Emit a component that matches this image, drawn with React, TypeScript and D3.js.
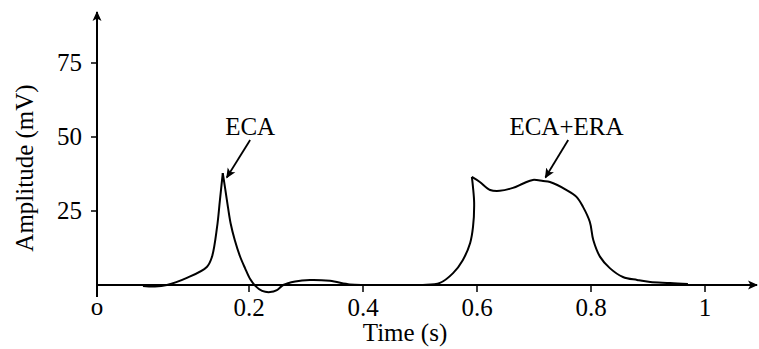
import React, { useEffect, useRef } from "react";
import * as d3 from "d3";

// time (s) and amplitude (mV), split at the two sharp peaks
const times1 = [0.014, 0.035, 0.056, 0.091, 0.126, 0.135, 0.144, 0.149, 0.154];
const amps1 = [-0.3, -0.5, 0, 2.4, 6.1, 9.5, 19.6, 28.7, 37.8];

const times2 = [
  0.154, 0.158, 0.163, 0.168, 0.175, 0.184, 0.193, 0.202, 0.211, 0.223,
  0.237, 0.249, 0.26, 0.281, 0.307, 0.342, 0.377, 0.404, 0.482, 0.505,
  0.535, 0.558, 0.575, 0.588, 0.593, 0.595, 0.593, 0.591,
];
const amps2 = [
  37.8, 32.8, 26.4, 20.6, 15.2, 9.8, 5.7, 2, -0.3, -2,
  -2.4, -1.7, 0, 1.2, 1.7, 1.4, 0.2, 0, 0, 0,
  0.7, 4, 8.4, 14.2, 19.6, 27.7, 33, 36.5,
];

const times3 = [
  0.591, 0.605, 0.623, 0.64, 0.663, 0.681, 0.698, 0.716, 0.728, 0.758,
  0.775, 0.786, 0.798, 0.804, 0.816, 0.833, 0.856, 0.881, 0.904, 0.939, 0.97,
];
const amps3 = [
  36.5, 34.8, 32.1, 31.8, 32.8, 34.3, 35.5, 35.1, 34.8, 32,
  29.7, 26.4, 21.3, 15.2, 9.5, 5.7, 2.7, 1.7, 1.0, 0.7, 0.3,
];

const xTicks = [0.2, 0.4, 0.6, 0.8, 1];
const yTicks = [25, 50, 75];

// labels with text anchor and arrow (from -> to) in data units
const notes = [
  { label: "ECA", tx: 0.202, tv: 50.6, from: [0.202, 49], to: [0.161, 36.3] },
  { label: "ECA+ERA", tx: 0.757, tv: 50.6, from: [0.76, 49], to: [0.72, 36.3] },
];

const App = () => {
  const ref = useRef(null);

  useEffect(() => {
    const root = d3.select(ref.current);
    root.selectAll("*").remove();

    const width = 759;
    const height = 349;
    const font = "Times New Roman, Times, Liberation Serif, serif";
    const fs = 25;

    const x = d3.scaleLinear().domain([0, 1]).range([135, 705]);
    const y = d3.scaleLinear().domain([0, 25]).range([285, 211]);
    const xMin = x.invert(97);
    const xMax = x.invert(757);
    const yMax = y.invert(12);

    const svg = root
      .append("svg")
      .attr("width", width)
      .attr("height", height)
      .attr("style", "position:absolute;left:0;top:0;background:#fff");

    svg
      .append("defs")
      .append("marker")
      .attr("id", "head")
      .attr("viewBox", "0 0 10 10")
      .attr("refX", 9)
      .attr("refY", 5)
      .attr("markerWidth", 10)
      .attr("markerHeight", 10)
      .attr("markerUnits", "userSpaceOnUse")
      .attr("orient", "auto")
      .append("path")
      .attr("d", "M0,0.5 L10,5 L0,9.5 L2.5,5 Z")
      .attr("fill", "#000");

    // axes
    svg
      .append("line")
      .attr("x1", x(xMin))
      .attr("x2", x(xMax))
      .attr("y1", y(0))
      .attr("y2", y(0))
      .attr("stroke", "#000")
      .attr("stroke-width", 2)
      .attr("marker-end", "url(#head)");
    svg
      .append("line")
      .attr("x1", x(xMin))
      .attr("x2", x(xMin))
      .attr("y1", y(0) + 12)
      .attr("y2", y(yMax))
      .attr("stroke", "#000")
      .attr("stroke-width", 2)
      .attr("marker-end", "url(#head)");

    // x ticks
    const gx = svg.append("g");
    gx.selectAll("line")
      .data(xTicks)
      .join("line")
      .attr("x1", (d) => x(d))
      .attr("x2", (d) => x(d))
      .attr("y1", y(0))
      .attr("y2", y(0) + 7)
      .attr("stroke", "#000")
      .attr("stroke-width", 1.5);
    gx.selectAll("text")
      .data(xTicks)
      .join("text")
      .attr("x", (d) => x(d))
      .attr("y", y(0) + 31)
      .attr("text-anchor", "middle")
      .attr("font-family", font)
      .attr("font-size", fs)
      .text((d) => d3.format("~g")(d));
    svg
      .append("text")
      .attr("x", x(xMin))
      .attr("y", y(0) + 30)
      .attr("text-anchor", "middle")
      .attr("font-family", font)
      .attr("font-size", fs)
      .text("o");

    // y ticks
    const gy = svg.append("g");
    gy.selectAll("line")
      .data(yTicks)
      .join("line")
      .attr("x1", x(xMin) - 6)
      .attr("x2", x(xMin))
      .attr("y1", (d) => y(d))
      .attr("y2", (d) => y(d))
      .attr("stroke", "#000")
      .attr("stroke-width", 1.5);
    gy.selectAll("text")
      .data(yTicks)
      .join("text")
      .attr("x", x(xMin) - 15)
      .attr("y", (d) => y(d) + 8)
      .attr("text-anchor", "end")
      .attr("font-family", font)
      .attr("font-size", fs)
      .text((d) => d);

    // axis titles
    svg
      .append("text")
      .attr("x", 405)
      .attr("y", 341)
      .attr("text-anchor", "middle")
      .attr("font-family", font)
      .attr("font-size", fs)
      .text("Time (s)");
    svg
      .append("text")
      .attr("transform", `translate(33,168) rotate(-90)`)
      .attr("text-anchor", "middle")
      .attr("font-family", font)
      .attr("font-size", fs)
      .text("Amplitude (mV)");

    // trace, drawn piecewise so the peaks stay sharp
    const line = d3
      .line()
      .x((d) => x(d[0]))
      .y((d) => y(d[1]))
      .curve(d3.curveCatmullRom.alpha(0.5));
    const pieces = [
      [times1, amps1],
      [times2, amps2],
      [times3, amps3],
    ];
    svg
      .append("g")
      .selectAll("path")
      .data(pieces.map(([ts, vs]) => ts.map((t, i) => [t, vs[i]])))
      .join("path")
      .attr("d", line)
      .attr("fill", "none")
      .attr("stroke", "#000")
      .attr("stroke-width", 2)
      .attr("stroke-linejoin", "round");

    // annotations
    const g = svg.append("g");
    notes.forEach((n) => {
      g.append("text")
        .attr("x", x(n.tx))
        .attr("y", y(n.tv))
        .attr("text-anchor", "middle")
        .attr("font-family", font)
        .attr("font-size", fs)
        .text(n.label);
      g.append("line")
        .attr("x1", x(n.from[0]))
        .attr("y1", y(n.from[1]))
        .attr("x2", x(n.to[0]))
        .attr("y2", y(n.to[1]))
        .attr("stroke", "#000")
        .attr("stroke-width", 1.8)
        .attr("marker-end", "url(#head)");
    });
  }, []);

  return <div ref={ref}></div>;
};

export default App;
